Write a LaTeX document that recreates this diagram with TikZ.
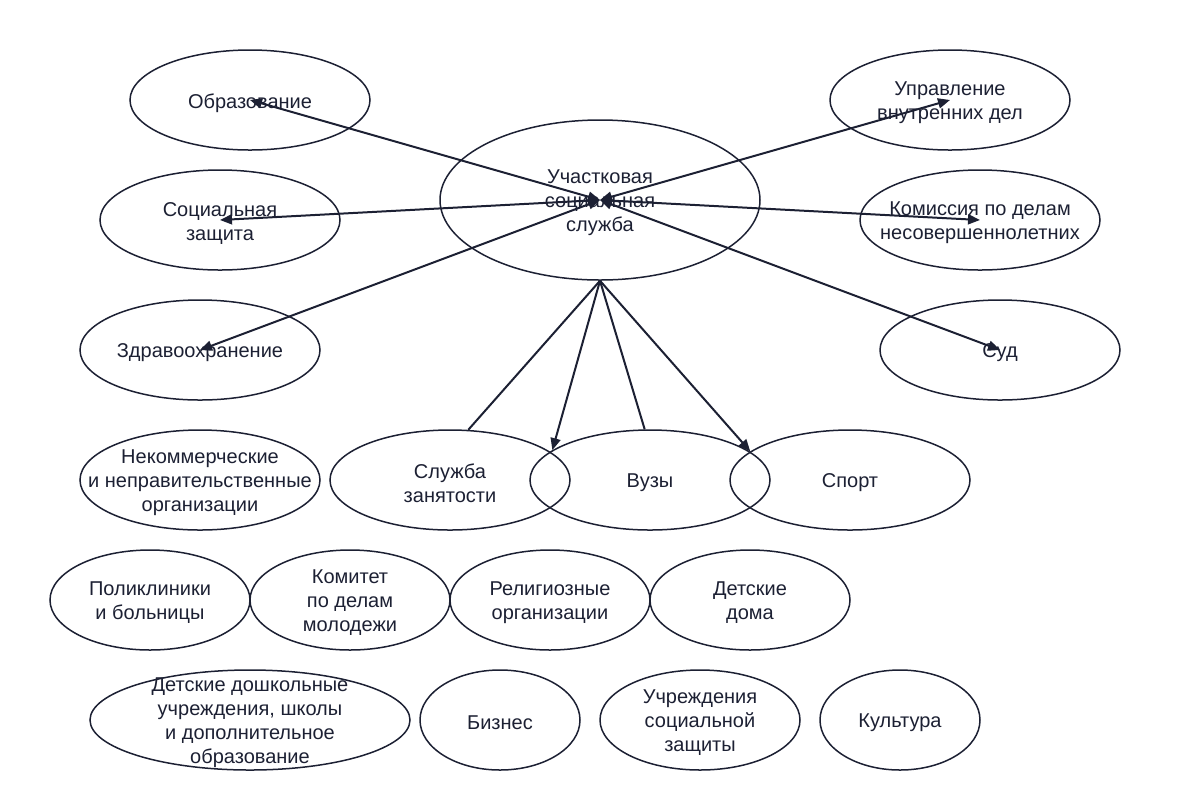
\documentclass[tikz,border=0pt]{standalone}
\usepackage{fontspec}
\setmainfont{Liberation Sans}
\usetikzlibrary{shapes.geometric, arrows.meta}
\definecolor{ink}{HTML}{1C2033}

\begin{document}
\begin{tikzpicture}[x=0.5pt, y=-0.5pt, every node/.style={font=\fontsize{10}{12}\selectfont, text=ink},
    oval/.style={draw=ink, line width=0.75pt, ellipse, minimum width=#1, minimum height=50pt, inner sep=0pt},
    oval/.default=120pt,
    txt/.style={align=center, yshift=-1.5pt},
    link/.style={draw=ink, line width=1pt},
    arr/.style={link, -{Triangle[length=6pt, width=5pt]}},
    both/.style={link, {Triangle[length=6pt, width=5pt]}-{Triangle[length=6pt, width=5pt]}},
]
\useasboundingbox (0,0) rectangle (1200,800);

% Central service
\node[oval=160pt, minimum height=80pt, label={[txt]center:{Участковая\\социальная\\служба}}] (uss) at (600,200) {};

% Left column
\node[oval, label={[txt]center:Образование}] (obr) at (250,100) {};
\node[oval, label={[txt]center:{Социальная\\защита}}] (soc) at (220,220) {};
\node[oval, label={[txt]center:Здравоохранение}] (zdr) at (200,350) {};

% Right column
\node[oval, label={[txt]center:{Управление\\внутренних дел}}] (upr) at (950,100) {};
\node[oval, label={[txt]center:{Комиссия по делам\\несовершеннолетних}}] (kom) at (980,220) {};
\node[oval, label={[txt]center:Суд}] (sud) at (1000,350) {};

% Row under the centre
\node[oval, label={[txt]center:{Некоммерческие\\и неправительственные\\организации}}] (nko) at (200,480) {};
\node[oval, label={[txt]center:{Служба\\занятости}}] (zan) at (450,480) {};
\node[oval, label={[txt]center:Вузы}] (vuz) at (650,480) {};
\node[oval, label={[txt]center:Спорт}] (sport) at (850,480) {};

% Second row
\node[oval=100pt, label={[txt]center:{Поликлиники\\и больницы}}] (polik) at (150,600) {};
\node[oval=100pt, label={[txt]center:{Комитет\\по делам\\молодежи}}] (komit) at (350,600) {};
\node[oval=100pt, label={[txt]center:{Религиозные\\организации}}] (relig) at (550,600) {};
\node[oval=100pt, label={[txt]center:{Детские\\дома}}] (ddom) at (750,600) {};

% Bottom row
\node[oval=160pt, label={[txt]center:{Детские дошкольные\\учреждения, школы\\и дополнительное\\образование}}] (dosh) at (250,720) {};
\node[oval=80pt, label={[txt]center:Бизнес}] (biz) at (500,720) {};
\node[oval=100pt, label={[txt]center:{Учреждения\\социальной\\защиты}}] (uchr) at (700,720) {};
\node[oval=80pt, label={[txt]center:Культура}] (kult) at (900,720) {};

% Two-way links through the centre
\foreach \n in {obr, soc, zdr, upr, kom, sud} {
    \draw[both] (\n.center) -- (uss.center);
}

% Links down from the centre
\draw[link] (uss.south) -- (zan.70);
\draw[arr] (uss.south) -- (vuz.163);
\draw[link] (uss.south) -- (vuz.96);
\draw[arr] (uss.south) -- (sport.164);

\end{tikzpicture}
\end{document}
